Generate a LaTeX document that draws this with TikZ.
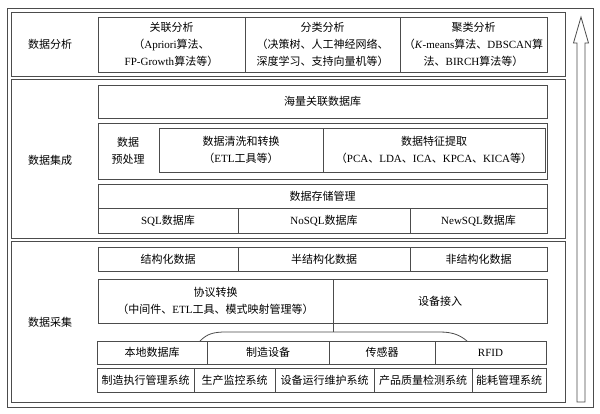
\documentclass[tikz,border=0pt]{standalone}
\usepackage{fontspec}
\setmainfont{Noto Sans CJK SC}
\newfontfamily\lat{Liberation Serif}
\newcommand\en[1]{{\lat #1}}
\newcommand\cell[6]{\node[bx, minimum width={(#4-#2)*1pt}, minimum height={(#5-#3)*1pt}] (#1) at ({(#2+#4)/2},{(#3+#5)/2}) {#6};}
\begin{document}
\begin{tikzpicture}[x=1pt,y=-1pt,
  ln/.style={draw=black!70, line width=0.8pt},
  bx/.style={ln, inner sep=0pt, outer sep=0pt, align=center, font=\fontsize{11}{17}\selectfont},
  lbl/.style={align=center, font=\fontsize{11}{17}\selectfont, inner sep=0pt}]
\useasboundingbox[fill=white] (0,0) rectangle (600,414);
% outer frame and bands
\cell{outer}{7}{8}{593}{407}{}
\cell{band1}{11}{12}{565}{76}{}
\cell{band2}{11}{79}{565}{238}{}
\cell{band3}{11}{241}{565}{402}{}
\node[lbl] (l1) at (50,44) {数据分析};
\node[lbl] (l2) at (50,160) {数据集成};
\node[lbl] (l3) at (50,322) {数据采集};
% data analysis
\cell{gl}{98}{17}{245}{72}{关联分析\\（\en{Apriori}算法、\\\en{FP-Growth}算法等）}
\cell{fl}{245}{17}{400}{72}{分类分析\\（决策树、人工神经网络、\\深度学习、支持向量机等）}
\cell{jl}{400}{17}{547}{72}{聚类分析\\（\en{\textit{K}-means}算法、\en{DBSCAN}算\\法、\en{BIRCH}算法等）}
% data integration
\cell{hl}{98}{85}{547}{118}{海量关联数据库}
\cell{pre}{98}{123}{547}{179}{}
\node[lbl] (prelbl) at (128,151) {数据\\预处理};
\cell{qx}{159}{128}{323}{172}{数据清洗和转换\\（\en{ETL}工具等）}
\cell{tz}{323}{128}{545}{172}{数据特征提取\\（\en{PCA}、\en{LDA}、\en{ICA}、\en{KPCA}、\en{KICA}等）}
\cell{cc}{98}{184}{547}{208}{数据存储管理}
\cell{sql}{98}{208}{238}{233}{\en{SQL}数据库}
\cell{nosql}{238}{208}{410}{233}{\en{NoSQL}数据库}
\cell{newsql}{410}{208}{547}{233}{\en{NewSQL}数据库}
% data acquisition
\cell{jg}{98}{247}{238}{271}{结构化数据}
\cell{bjg}{238}{247}{410}{271}{半结构化数据}
\cell{fjg}{410}{247}{547}{271}{非结构化数据}
\cell{xy}{98}{279}{333}{323}{协议转换\\（中间件、\en{ETL}工具、模式映射管理等）}
\cell{sb}{333}{279}{547}{323}{设备接入}
\cell{bd}{97}{341}{207}{364}{本地数据库}
\cell{zz}{207}{341}{329}{364}{制造设备}
\cell{cg}{329}{341}{435}{364}{传感器}
\cell{rf}{435}{341}{546}{364}{\en{RFID}}
\cell{s1}{97}{368}{194}{392}{制造执行管理系统}
\cell{s2}{194}{368}{275}{392}{生产监控系统}
\cell{s3}{275}{368}{374}{392}{设备运行维护系统}
\cell{s4}{374}{368}{472}{392}{产品质量检测系统}
\cell{s5}{472}{368}{546}{392}{能耗管理系统}
% brace joining devices to protocol / access
\coordinate (bl) at (200,341);
\coordinate (bm) at (333,332);
\coordinate (br) at (467,341);
\draw[ln] (bl) .. controls (207,334) and (213,332) .. (226,332) -- (440,332)
  .. controls (454,332) and (461,336) .. (br);
\draw[ln] (xy.south east) -- (bm);
% hollow upward arrow
\draw[ln] (577,402) -- (577,43) -- (573.5,43) -- (581,17) -- (588.5,43) -- (585,43) -- (585,402) -- cycle;
\end{tikzpicture}
\end{document}
